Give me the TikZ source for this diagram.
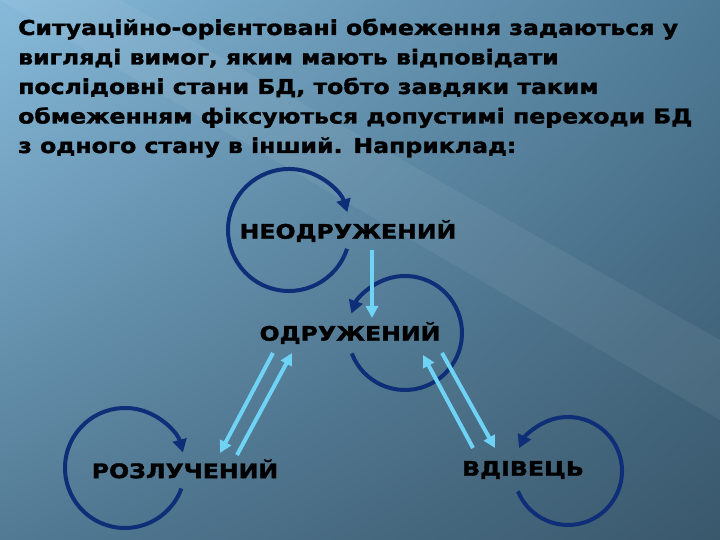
\documentclass[tikz,border=0pt]{standalone}
\usepackage{fontspec}
\setmainfont{DejaVu Sans}[BoldFont={DejaVu Sans Bold}]
\newfontfamily\wide{DejaVu Sans Bold}[FakeStretch=1.15,FakeBold=1.6]
\newfontfamily\widestate{DejaVu Sans Bold}[FakeStretch=1.18,FakeBold=1.6]
\usetikzlibrary{arrows.meta,shadings}
\definecolor{loopc}{HTML}{0E2F78}
\definecolor{cyanc}{HTML}{6ED3F5}
\definecolor{bgul}{RGB}{135,186,218}
\definecolor{bgur}{RGB}{78,122,150}
\definecolor{bgll}{RGB}{82,122,148}
\definecolor{bglr}{RGB}{58,88,108}
\tikzset{
  toptext/.style={anchor=base west,inner sep=0,font=\wide\fontsize{20.5}{22}\selectfont},
  state/.style={inner sep=1pt,font=\widestate\fontsize{20}{22}\selectfont},
  loopline/.style={draw=loopc,line width=4pt,-{Triangle[length=13pt,width=14pt]}},
  cyanarrow/.style={draw=cyanc,line width=4pt,-{Triangle[length=12pt,width=12pt]}}
}
\begin{document}
\begin{tikzpicture}[x=1pt,y=1pt]
\useasboundingbox (0,0) rectangle (720,540);
\shade[upper left=bgul,upper right=bgur,lower left=bgll,lower right=bglr] (0,0) rectangle (720,540);
\fill[white,opacity=0.06] (0,540) -- (120,540) -- (720,200) -- (720,120) -- cycle;
\node[toptext] (l1) at (18,505) {Ситуаційно-орієнтовані обмеження задаються у};
\node[toptext] (l2) at (18,475.5) {вигляді вимог, яким мають відповідати};
\node[toptext] (l3) at (18,446) {послідовні стани БД, тобто завдяки таким};
\node[toptext] (l4) at (18,416.5) {обмеженням фіксуються допустимі переходи БД};
\node[toptext] (l5) at (18,387) {з одного стану в інший. Наприклад:};
\node[state] (s1) at (348,309) {НЕОДРУЖЕНИЙ};
\node[state] (s2) at (350,207) {ОДРУЖЕНИЙ};
\node[state] (s3) at (185,71) {РОЗЛУЧЕНИЙ};
\node[state] (s4) at (523,70) {ВДІВЕЦЬ};
\coordinate (c1) at (289,310);
\coordinate (c2) at (405,207);
\coordinate (c3) at (125,72);
\coordinate (c4) at (568,69);
\draw[loopline] (c1) ++(-18:61) arc[start angle=-18,end angle=-343,radius=61];
\draw[loopline] (c2) ++(201:57) arc[start angle=201,end angle=520,radius=57];
\draw[loopline] (c3) ++(-20:60) arc[start angle=-20,end angle=-345,radius=60];
\draw[loopline] (c4) ++(202:54) arc[start angle=202,end angle=515,radius=54];
\coordinate (v1) at (372,290); \coordinate (v2) at (372,222);
\coordinate (a1) at (273,187); \coordinate (a2) at (220,87);
\coordinate (b1) at (237,85); \coordinate (b2) at (292,187);
\coordinate (cc1) at (473,92); \coordinate (cc2) at (423,185);
\coordinate (d1) at (442,187); \coordinate (d2) at (495,92);
\draw[cyanarrow] (v1) -- (v2);
\draw[cyanarrow] (a1) -- (a2);
\draw[cyanarrow] (b1) -- (b2);
\draw[cyanarrow] (cc1) -- (cc2);
\draw[cyanarrow] (d1) -- (d2);
\end{tikzpicture}
\end{document}
